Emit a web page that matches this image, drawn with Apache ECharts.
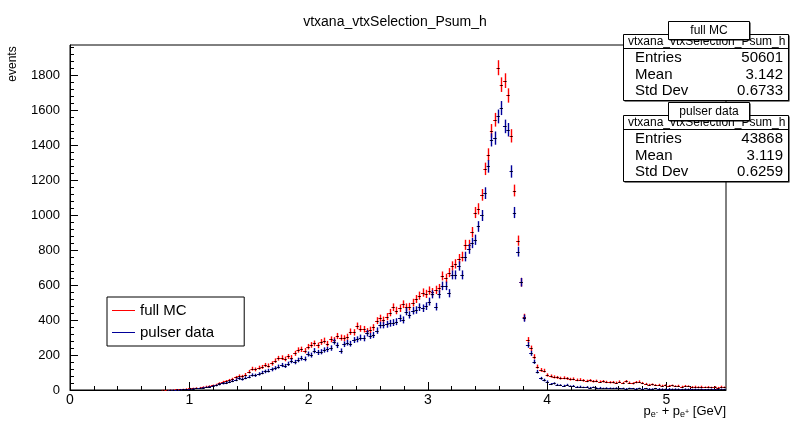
<!DOCTYPE html>
<html>
<head>
<meta charset="utf-8">
<script src="https://cdn.jsdelivr.net/npm/echarts@6/dist/echarts.min.js"></script>
<style>
html,body{margin:0;padding:0;background:#fff;}
#chart{width:790px;height:423px;}
</style>
</head>
<body>
<div id="chart"></div>
<script>
// ---- histogram definition ----
const binLow = 0;          // low edge of first bin (GeV)
const binWidth = 0.0275;   // 200 bins over 0..5.5 GeV
const firstBin = 28;       // index of first bin listed below

// full MC, bin contents from bin 28 onward
const mcCounts = [
  1,1,2,2,3,4,5,7,9,10,12,14,17,20,22,26,30,38,46,50,
  56,62,72,80,78,88,105,122,118,128,132,143,140,152,168,182,185,178,192,186,
  210,229,233,225,248,258,267,255,275,283,265,290,286,309,300,296,305,334,330,367,
  352,348,336,344,358,397,411,400,420,443,474,455,468,491,474,477,500,521,540,558,
  550,569,560,573,583,653,640,672,710,722,751,764,831,831,903,1016,1037,1117,1266,1347,
  1484,1547,1845,1748,1771,1686,1455,1142,855,617,416,286,239,191,134,115,111,86,80,75,
  72,68,70,66,62,64,58,60,55,52,55,50,52,48,50,46,44,45,42,48,
  40,50,42,38,45,48,40,35,30,32,28,30,25,27,24,26,22,25,20,24,
  22,18,20,17,20,16,18,15,18,14,20,16
];
// pulser data, bin contents from bin 28 onward
const dataCounts = [
  0,0,1,1,2,2,3,4,5,7,9,11,14,16,19,22,26,32,38,40,
  46,52,58,66,62,70,76,86,84,92,100,106,111,118,125,134,143,138,150,166,
  160,172,182,178,206,200,225,215,219,229,232,240,277,256,223,262,271,265,286,290,
  300,296,325,310,315,340,372,372,376,382,386,391,411,401,449,430,454,458,474,468,
  480,506,548,477,548,596,596,554,659,659,710,659,764,808,841,860,936,999,1127,1280,
  1432,1442,1566,1614,1509,1490,1251,1016,792,617,411,258,210,162,105,67,57,48,34,38,
  30,28,25,30,22,24,18,20,15,18,14,16,12,14,10,12,11,10,12,9,
  10,8,10,9,8,10,7,9,8,7,9,8,7,6,8,6,7,6,5,7,
  6,5,6,5,6,4,5,6,4,5,6,5
];
const seriesNames = ['full MC', 'pulser data'];
const xMajorTicks = [0, 1, 2, 3, 4, 5];
const yMajorTicks = [0, 200, 400, 600, 800, 1000, 1200, 1400, 1600, 1800];
const statsMC = { entries: '50601', mean: '3.142', std: '0.6733' };
const statsData = { entries: '43868', mean: '3.119', std: '0.6259' };
const histName = 'vtxana_vtxSelection_Psum_h';

// ---- build ----
const FONT = "'Liberation Sans', Arial, Helvetica, sans-serif";
const measureCtx = document.createElement('canvas').getContext('2d');
function textW(txt, size) { measureCtx.font = size + 'px ' + FONT; return measureCtx.measureText(txt).width; }

function toPoints(counts) {
  const pts = [];
  counts.forEach((c, k) => {
    if (c > 0) pts.push([binLow + (firstBin + k + 0.5) * binWidth, c]);
  });
  return pts;
}
function makeRender(color) {
  return function (params, api) {
    const x = api.value(0), y = api.value(1), e = Math.sqrt(y);
    const c = api.coord([x, y]);
    const t = api.coord([x, y + e]);
    const b = api.coord([x, Math.max(0, y - e)]);
    const l = api.coord([x - binWidth / 2, y]);
    const r = api.coord([x + binWidth / 2, y]);
    const px = Math.round(c[0]) + 0.5, py = Math.round(c[1]) + 0.5;
    return {
      type: 'group',
      children: [
        { type: 'line', shape: { x1: px, y1: t[1], x2: px, y2: b[1] }, style: { stroke: color, lineWidth: 1.4 } },
        { type: 'line', shape: { x1: l[0], y1: py, x2: r[0], y2: py }, style: { stroke: color, lineWidth: 1 } },
        { type: 'rect', shape: { x: px - 1, y: py - 0.5, width: 2, height: 1 }, style: { fill: '#000' } }
      ]
    };
  };
}
const xMinor = [], yMinor = [];
for (let k = 1; k <= 27; k++) xMinor.push(+(k * 0.2).toFixed(1));
for (let k = 1; k <= 49; k++) yMinor.push(k * 40);

function statBox(top, title, st) {
  const L = 623, R = 788, H = 66;
  const els = [];
  els.push({ type: 'rect', shape: { x: L + 1.5, y: top + 1.5, width: R - L, height: H }, style: { fill: '#000' }, z: 100 });
  els.push({ type: 'rect', shape: { x: L + 0.5, y: top + 0.5, width: R - L, height: H }, style: { fill: '#fff', stroke: '#000', lineWidth: 1 }, z: 101 });
  els.push({ type: 'line', shape: { x1: L, y1: top + 14.5, x2: R + 1, y2: top + 14.5 }, style: { stroke: '#000', lineWidth: 1 }, z: 102 });
  els.push({ type: 'text', x: L + 5, y: top + 7.5, style: { text: histName, font: '12px ' + FONT, fill: '#000', verticalAlign: 'middle' }, z: 102 });
  const rows = [['Entries', st.entries], ['Mean', st.mean], ['Std Dev', st.std]];
  rows.forEach((rw, k) => {
    const yy = top + 24 + k * 16.6;
    els.push({ type: 'text', x: L + 12, y: yy, style: { text: rw[0], font: '15px ' + FONT, fill: '#000', verticalAlign: 'middle' }, z: 102 });
    els.push({ type: 'text', x: R - 5, y: yy, style: { text: rw[1], font: '15px ' + FONT, fill: '#000', verticalAlign: 'middle', align: 'right' }, z: 102 });
  });
  const tx = 668, tw = 81, tt = top - 13, th = 18;
  els.push({ type: 'rect', shape: { x: tx + 1.5, y: tt + 1.5, width: tw, height: th }, style: { fill: '#000' }, z: 103 });
  els.push({ type: 'rect', shape: { x: tx + 0.5, y: tt + 0.5, width: tw, height: th }, style: { fill: '#fff', stroke: '#000', lineWidth: 1 }, z: 104 });
  els.push({ type: 'text', x: tx + tw / 2 + 0.5, y: tt + th / 2 + 0.5, style: { text: title, font: '12px ' + FONT, fill: '#000', align: 'center', verticalAlign: 'middle' }, z: 105 });
  return els;
}

// x-axis title  p_{e^-} + p_{e^+} [GeV], right-aligned at the frame end
function xTitle(rightX, midY) {
  const big = 13, sub = 9, sup = 7;
  const parts = [
    { t: 'p', s: big, dy: 0 },
    { t: 'e', s: sub, dy: 4 },
    { t: '-', s: sup, dy: 1 },
    { t: ' + p', s: big, dy: 0 },
    { t: 'e', s: sub, dy: 4 },
    { t: '+', s: sup, dy: 1 },
    { t: ' [GeV]', s: big, dy: 0 }
  ];
  const total = parts.reduce((a, p) => a + textW(p.t, p.s), 0);
  let x = rightX - total;
  const out = [];
  parts.forEach(p => {
    out.push({ type: 'text', x: x, y: midY + p.dy, style: { text: p.t, font: p.s + 'px ' + FONT, fill: '#000', verticalAlign: 'middle' } });
    x += textW(p.t, p.s);
  });
  return out;
}

const chart = echarts.init(document.getElementById('chart'), null, { renderer: 'canvas' });
const option = {
  animation: false,
  backgroundColor: '#fff',
  title: {
    text: histName, left: 'center', top: 10,
    textStyle: { fontFamily: FONT, fontSize: 14, fontWeight: 'normal', color: '#000' }
  },
  grid: { left: 70, right: 64, top: 45, bottom: 33, show: true, borderColor: '#000', borderWidth: 1, backgroundColor: 'transparent' },
  legend: {
    orient: 'vertical', left: 107, top: 297,
    padding: [6, 30, 6, 5], itemGap: 7, itemWidth: 23, itemHeight: 1, icon: 'rect',
    borderColor: '#000', borderWidth: 1, backgroundColor: '#fff', borderRadius: 0,
    textStyle: { fontFamily: FONT, fontSize: 15, color: '#000' },
    data: seriesNames
  },
  xAxis: [{
    type: 'value', min: 0, max: 5.5, interval: 1,
    axisLine: { show: true, onZero: false, lineStyle: { color: '#000', width: 1 } },
    axisTick: { show: true, inside: true, length: 8, lineStyle: { color: '#000' }, customValues: xMajorTicks },
    axisLabel: { show: true, color: '#000', fontFamily: FONT, fontSize: 14, margin: 3, customValues: xMajorTicks },
    splitLine: { show: false }
  }, {
    type: 'value', min: 0, max: 5.5, position: 'bottom',
    axisLine: { show: false },
    axisTick: { show: true, inside: true, length: 4, lineStyle: { color: '#000' }, customValues: xMinor },
    axisLabel: { show: false },
    splitLine: { show: false }
  }],
  yAxis: [{
    type: 'value', min: 0, max: 1975, interval: 200,
    axisLine: { show: true, lineStyle: { color: '#000', width: 1 } },
    axisTick: { show: true, inside: true, length: 8, lineStyle: { color: '#000' }, customValues: yMajorTicks },
    axisLabel: { show: true, color: '#000', fontFamily: FONT, fontSize: 13, margin: 10, customValues: yMajorTicks, formatter: v => String(v) },
    splitLine: { show: false }
  }, {
    type: 'value', min: 0, max: 1975, position: 'left',
    axisLine: { show: false },
    axisTick: { show: true, inside: true, length: 4, lineStyle: { color: '#000' }, customValues: yMinor },
    axisLabel: { show: false },
    splitLine: { show: false }
  }],
  series: [
    {
      name: seriesNames[0], type: 'custom', xAxisIndex: 0, yAxisIndex: 0,
      itemStyle: { color: '#ff0000' },
      renderItem: makeRender('#ff0000'),
      data: toPoints(mcCounts), z: 3
    },
    {
      name: seriesNames[1], type: 'custom', xAxisIndex: 0, yAxisIndex: 0,
      itemStyle: { color: '#000099' },
      renderItem: makeRender('#000099'),
      data: toPoints(dataCounts), z: 4
    }
  ],
  graphic: [
    { type: 'text', x: 13, y: 64, rotation: Math.PI / 2, style: { text: 'events', font: '12px ' + FONT, fill: '#000', align: 'center', verticalAlign: 'middle' } }
  ].concat(xTitle(726, 411))
   .concat(statBox(34, seriesNames[0], statsMC)).concat(statBox(115, seriesNames[1], statsData))
};
chart.setOption(option);
</script>
</body>
</html>
